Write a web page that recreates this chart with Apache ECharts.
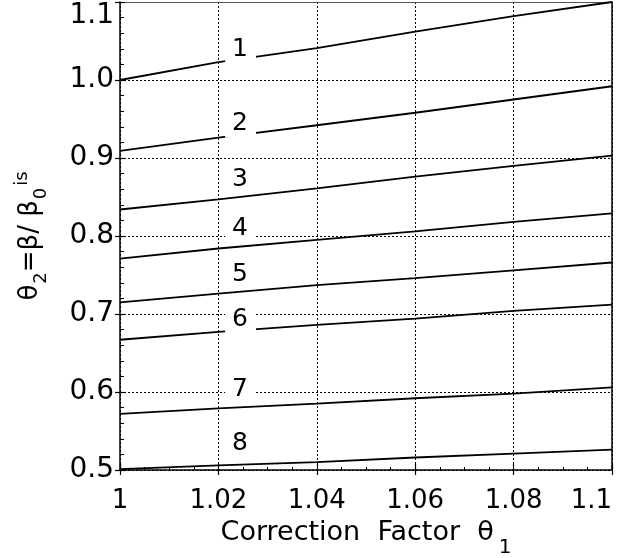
<!DOCTYPE html>
<html><head><meta charset="utf-8">
<script src="https://cdn.jsdelivr.net/npm/echarts@6/dist/echarts.min.js"></script>
<style>html,body{margin:0;padding:0;background:#fff}#c{width:643px;height:558px}</style>
</head><body><div id="c"></div>
<script>
// ---- data ----
const xValues = [1.00, 1.02, 1.04, 1.06, 1.08, 1.10];
const curve1 = [1.000, 1.023, 1.041, 1.062, 1.082, 1.100];
const curve2 = [0.909, 0.926, 0.942, 0.958, 0.975, 0.992];
const curve3 = [0.834, 0.847, 0.861, 0.876, 0.890, 0.903];
const curve4 = [0.771, 0.784, 0.795, 0.806, 0.818, 0.829];
const curve5 = [0.715, 0.726, 0.737, 0.746, 0.756, 0.766];
const curve6 = [0.667, 0.677, 0.686, 0.694, 0.704, 0.712];
const curve7 = [0.572, 0.579, 0.585, 0.592, 0.598, 0.606];
const curve8 = [0.501, 0.506, 0.510, 0.516, 0.521, 0.526];
const curveNames = ['1', '2', '3', '4', '5', '6', '7', '8'];
// curve label anchor points (data coordinates)
const labelX = 1.0245;
const labelY = [1.039, 0.944, 0.873, 0.809, 0.751, 0.693, 0.603, 0.534];

const curves = [curve1, curve2, curve3, curve4, curve5, curve6, curve7, curve8];
const FONT = 'DejaVu Sans';
const BLACK = '#000';

const lineSeries = curves.map((c, i) => ({
  type: 'line',
  name: curveNames[i],
  data: xValues.map((x, j) => [x, c[j]]),
  showSymbol: false,
  symbol: 'none',
  lineStyle: { color: BLACK, width: 1.8 },
  z: 3,
  silent: true
}));

const labelSeries = {
  type: 'scatter',
  data: labelY.map((y, i) => [labelX, y, curveNames[i]]),
  symbolSize: 0,
  silent: true,
  z: 10,
  itemStyle: { opacity: 1, color: BLACK },
  label: {
    show: true,
    position: 'inside',
    formatter: p => p.data[2],
    fontFamily: FONT,
    fontSize: 25,
    color: BLACK,
    opacity: 1,
    backgroundColor: '#fff',
    padding: [2, 8, 1, 7]
  }
};

const chart = echarts.init(document.getElementById('c'), null, { renderer: 'canvas' });
chart.setOption({
  animation: false,
  backgroundColor: '#fff',
  grid: { left: 120, right: 31, top: 2, bottom: 88, containLabel: false, outerBoundsMode: 'none' },
  xAxis: [
    {
      type: 'value', min: 1, max: 1.1, interval: 0.02, position: 'bottom',
      axisLine: { lineStyle: { color: BLACK, width: 1.5 } },
      axisTick: { show: true, inside: true, length: 6, lineStyle: { color: BLACK, width: 1.2 } },
      minorTick: { show: true, splitNumber: 4, length: 3, lineStyle: { color: BLACK, width: 1 } },
      splitLine: { show: true, lineStyle: { color: BLACK, width: 1, type: [2, 2] } },
      axisLabel: { fontFamily: FONT, fontSize: 26, color: BLACK, margin: 18, alignMaxLabel: 'right' },
      name: '{m|Correction  Factor  θ}{s|1}',
      nameLocation: 'middle',
      nameGap: 38,
      nameTextStyle: {
        fontFamily: FONT, fontSize: 27, color: BLACK,
        rich: {
          m: { fontFamily: FONT, fontSize: 27, color: BLACK },
          s: { fontFamily: FONT, fontSize: 20, color: BLACK, padding: [30, 0, 0, 5] }
        }
      }
    },
    {
      type: 'value', min: 1, max: 1.1, interval: 0.02, position: 'bottom',
      axisLine: { show: false },
      axisTick: { show: true, inside: false, length: 5, lineStyle: { color: BLACK, width: 1.2 } },
      axisLabel: { show: false }, splitLine: { show: false }
    },
    {
      type: 'value', min: 1, max: 1.1, position: 'top',
      axisLine: { show: true, lineStyle: { color: '#555', width: 1.2 } },
      axisTick: { show: false }, axisLabel: { show: false }, splitLine: { show: false }
    }
  ],
  yAxis: [
    {
      type: 'value', min: 0.5, max: 1.1, interval: 0.1, position: 'left',
      axisLine: { lineStyle: { color: BLACK, width: 1.5 } },
      axisTick: { show: true, inside: true, length: 5, lineStyle: { color: BLACK, width: 1.2 } },
      minorTick: { show: true, splitNumber: 5, length: 4, lineStyle: { color: BLACK, width: 1 } },
      splitLine: { show: true, lineStyle: { color: BLACK, width: 1, type: [2, 2] } },
      axisLabel: {
        fontFamily: FONT, fontSize: 28, color: BLACK, margin: 6,
        formatter: v => v.toFixed(1),
        verticalAlignMaxLabel: 'top'
      },
      name: '{m|θ}{s|2}{m|=β/ β}{s|0}{p|is}',
      nameLocation: 'middle',
      nameRotate: 90,
      nameGap: 70,
      nameTextStyle: {
        fontFamily: FONT, fontSize: 26, color: BLACK,
        rich: {
          m: { fontFamily: FONT, fontSize: 26, color: BLACK },
          s: { fontFamily: FONT, fontSize: 18, color: BLACK, padding: [22, 0, 0, 1] },
          p: { fontFamily: FONT, fontSize: 18, color: BLACK, padding: [0, 0, 16, 2] }
        }
      }
    },
    {
      type: 'value', min: 0.5, max: 1.1, interval: 0.1, position: 'left',
      axisLine: { show: false },
      axisTick: { show: true, inside: false, length: 5, lineStyle: { color: BLACK, width: 1.2 } },
      axisLabel: { show: false }, splitLine: { show: false }
    },
    {
      type: 'value', min: 0.5, max: 1.1, position: 'right',
      axisLine: { show: true, lineStyle: { color: BLACK, width: 1.5 } },
      axisTick: { show: false }, axisLabel: { show: false }, splitLine: { show: false }
    }
  ],
  series: [...lineSeries, labelSeries]
});
</script>
</body></html>
